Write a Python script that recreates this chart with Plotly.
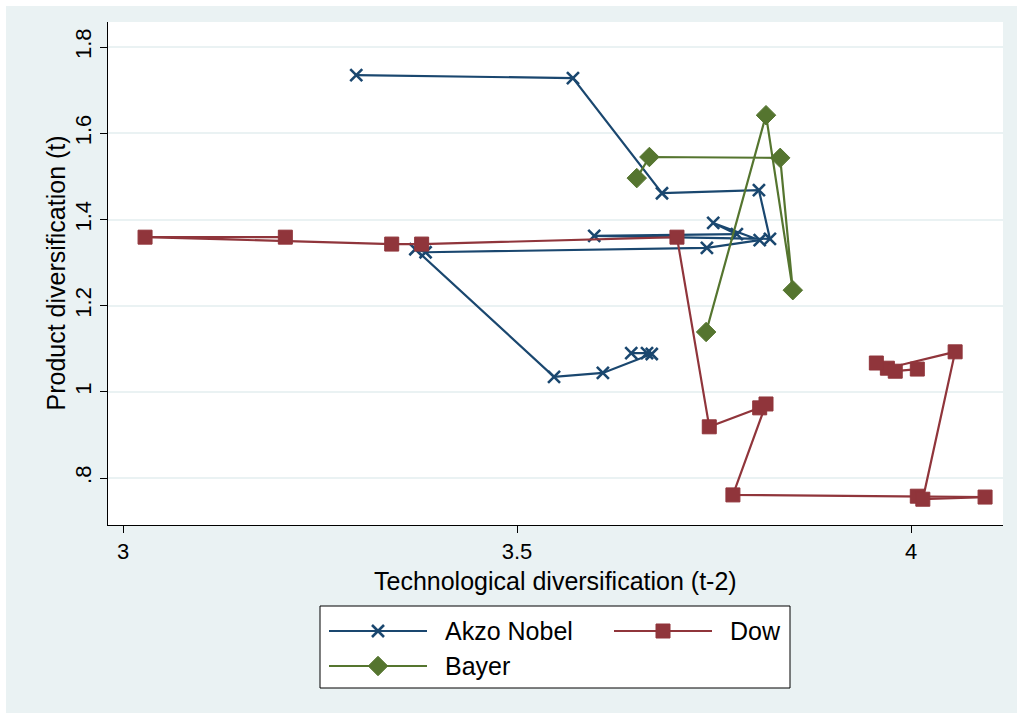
import plotly.graph_objects as go

# ---- data: technological diversification (t-2) vs product diversification (t)
akzo_x = [3.296, 3.571, 3.684, 3.807, 3.821, 3.598, 3.779, 3.749, 3.808, 3.741,
          3.384, 3.371, 3.547, 3.609, 3.671, 3.665, 3.645]
akzo_y = [1.735, 1.728, 1.461, 1.468, 1.355, 1.362, 1.366, 1.392, 1.352, 1.334,
          1.324, 1.331, 1.035, 1.044, 1.088, 1.090, 1.090]

dow_x = [3.206, 3.028, 3.341, 3.379, 3.703, 3.744, 3.808, 3.816, 3.774, 4.008,
         4.094, 4.015, 4.056, 3.970, 3.956, 3.980, 4.008]
dow_y = [1.359, 1.359, 1.343, 1.343, 1.359, 0.919, 0.963, 0.972, 0.761, 0.758,
         0.756, 0.751, 1.093, 1.055, 1.067, 1.048, 1.053]

bayer_x = [3.652, 3.668, 3.834, 3.850, 3.816, 3.740]
bayer_y = [1.496, 1.545, 1.543, 1.236, 1.642, 1.139]

series_names = ["Akzo Nobel", "Dow", "Bayer"]

x_ticks = [3, 3.5, 4]
x_ticktext = ["3", "3.5", "4"]
y_ticks = [0.8, 1.0, 1.2, 1.4, 1.6, 1.8]
y_ticktext = [".8", "1", "1.2", "1.4", "1.6", "1.8"]

# ---- styling
W, H = 1023, 719
NAVY = "#1A476F"
MAROON = "#90353B"
GREEN = "#55752F"
BG = "#EAF2F3"
FONT = "Liberation Sans, Arial, sans-serif"
TICK_SIZE = 22
TITLE_SIZE = 25
LEGEND_SIZE = 25
LINE_W = 2.2

# plot region in pixels
PL, PR, PT, PB = 108, 1003, 22, 525

styles = {
    "Akzo Nobel": dict(color=NAVY, symbol="x-thin", size=12, lw=2.6),
    "Dow": dict(color=MAROON, symbol="square", size=14, lw=1),
    "Bayer": dict(color=GREEN, symbol="diamond", size=15, lw=1),
}
data = {
    "Akzo Nobel": (akzo_x, akzo_y),
    "Dow": (dow_x, dow_y),
    "Bayer": (bayer_x, bayer_y),
}

fig = go.Figure()
for name in series_names:
    xs, ys = data[name]
    st = styles[name]
    fig.add_trace(go.Scatter(
        x=xs, y=ys, mode="lines+markers", name=name, showlegend=False,
        line=dict(color=st["color"], width=LINE_W),
        marker=dict(symbol=st["symbol"], size=st["size"], color=st["color"],
                    line=dict(color=st["color"], width=st["lw"])),
        xaxis="x", yaxis="y",
    ))

# ---- legend box drawn on its own hidden axes (pixel units)
LX0, LX1, LY0, LY1 = 320, 790, 606, 688
legend_items = [
    ("Akzo Nobel", 329, 427, 443, 631),
    ("Dow", 614, 712, 728, 631),
    ("Bayer", 329, 427, 443, 666),
]
for name, x0, x1, tx, ty in legend_items:
    st = styles[name]
    fig.add_trace(go.Scatter(
        x=[x0, x1], y=[ty, ty], mode="lines", showlegend=False, hoverinfo="skip",
        line=dict(color=st["color"], width=LINE_W), xaxis="x2", yaxis="y2"))
    fig.add_trace(go.Scatter(
        x=[(x0 + x1) / 2], y=[ty], mode="markers", showlegend=False, hoverinfo="skip",
        marker=dict(symbol=st["symbol"], size=st["size"], color=st["color"],
                    line=dict(color=st["color"], width=st["lw"])),
        xaxis="x2", yaxis="y2"))
    fig.add_annotation(x=tx, y=ty, xref="x2", yref="y2", text=name, showarrow=False,
                       xanchor="left", yanchor="middle",
                       font=dict(family=FONT, size=LEGEND_SIZE, color="black"))

# axis titles
fig.add_annotation(x=(PL + PR) / 2 / W, y=1 - 581 / H, xref="paper", yref="paper",
                   text="Technological diversification (t-2)", showarrow=False,
                   xanchor="center", yanchor="middle",
                   font=dict(family=FONT, size=TITLE_SIZE, color="black"))
fig.add_annotation(x=55 / W, y=1 - (PT + PB) / 2 / H, xref="paper", yref="paper",
                   text="Product diversification (t)", showarrow=False, textangle=-90,
                   xanchor="center", yanchor="middle",
                   font=dict(family=FONT, size=TITLE_SIZE, color="black"))

x_lo = 3 + (PL - 123) / 788
x_hi = 3 + (PR - 123) / 788
y_lo = 1.8 - (PB - 47.1) / 431
y_hi = 1.8 + (47.1 - PT) / 431

fig.update_layout(
    width=W, height=H,
    margin=dict(l=0, r=0, t=0, b=0),
    paper_bgcolor=BG, plot_bgcolor="white",
    font=dict(family=FONT, color="black"),
    showlegend=False,
    xaxis=dict(domain=[PL / W, PR / W], range=[x_lo, x_hi], tickvals=x_ticks,
               ticktext=x_ticktext, showgrid=False, zeroline=False, showline=True,
               linecolor="black", linewidth=1, ticks="outside", ticklen=7,
               tickcolor="black", tickfont=dict(size=TICK_SIZE), anchor="y"),
    yaxis=dict(domain=[1 - PB / H, 1 - PT / H], range=[y_lo, y_hi], tickvals=y_ticks,
               ticktext=y_ticktext, showgrid=True, gridcolor=BG, gridwidth=1.5,
               zeroline=False, showline=True, linecolor="black", linewidth=1,
               ticks="outside", ticklen=7, tickcolor="black", tickangle=-90,
               tickfont=dict(size=TICK_SIZE), anchor="x"),
    xaxis2=dict(domain=[LX0 / W, LX1 / W], range=[LX0, LX1], visible=False,
                anchor="y2", fixedrange=True),
    yaxis2=dict(domain=[1 - LY1 / H, 1 - LY0 / H], range=[LY1, LY0], visible=False,
                anchor="x2", fixedrange=True),
    shapes=[
        dict(type="rect", xref="paper", yref="paper", x0=LX0 / W, x1=LX1 / W,
             y0=1 - LY1 / H, y1=1 - LY0 / H, line=dict(color="black", width=1),
             fillcolor="rgba(0,0,0,0)", layer="above"),
        dict(type="rect", xref="paper", yref="paper", x0=0, x1=1, y0=0, y1=1,
             line=dict(color="white", width=12), fillcolor="rgba(0,0,0,0)",
             layer="above"),
    ],
)

fig.write_html("out.html")
